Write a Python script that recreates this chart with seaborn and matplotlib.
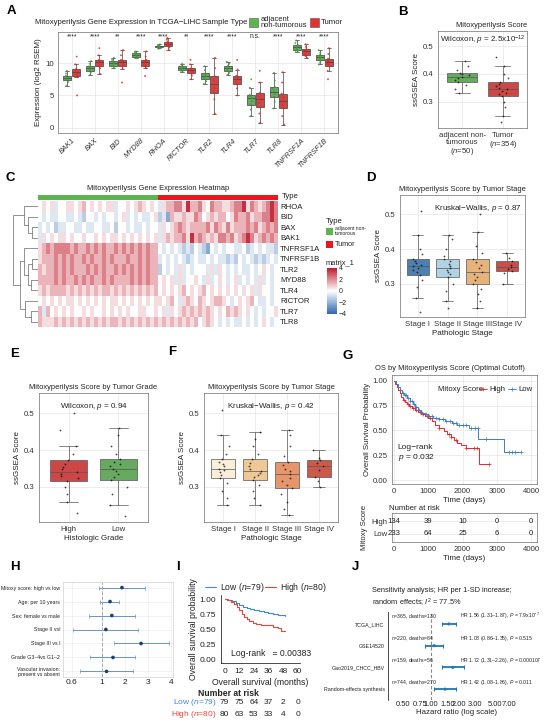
import numpy as np
import pandas as pd
import seaborn as sns
import matplotlib
matplotlib.use("Agg")
import matplotlib.pyplot as plt
from matplotlib.colors import LinearSegmentedColormap, ListedColormap
from matplotlib.patches import Rectangle
from matplotlib.lines import Line2D

# ---------------- panel A: gene expression ----------------
genes = ["BAK1", "BAX", "BID", "MYD88", "RHOA", "RICTOR", "TLR2", "TLR4",
         "TLR7", "TLR8", "TNFRSF1A", "TNFRSF1B"]
gene_stars = ["****", "****", "**", "****", "****", "**", "****", "****",
              "n.s.", "****", "****", "****"]
expr_normal = [
    [6.5, 7.1, 7.33, 7.5, 7.7, 7.85, 8.05, 8.4, 8.8],
    [8.2, 8.6, 8.8, 9.0, 9.2, 9.35, 9.5, 9.9, 10.3],
    [9.2, 9.45, 9.6, 9.8, 10.0, 10.15, 10.3, 10.5, 10.8],
    [10.8, 10.9, 11.0, 11.15, 11.3, 11.4, 11.5, 11.65, 11.8],
    [12.2, 12.4, 12.5, 12.55, 12.6, 12.65, 12.7, 12.8, 12.9],
    [8.6, 8.8, 8.9, 9.05, 9.2, 9.35, 9.5, 9.7, 9.9],
    [6.8, 7.2, 7.5, 7.75, 8.0, 8.2, 8.4, 8.9, 9.5],
    [8.2, 8.5, 8.8, 9.0, 9.2, 9.4, 9.6, 9.9, 10.2],
    [1.8, 2.8, 3.6, 4.1, 4.6, 4.9, 5.1, 6.2, 7.5],
    [3.0, 4.0, 4.8, 5.2, 5.6, 6.0, 6.3, 7.3, 8.5],
    [11.7, 11.9, 12.05, 12.3, 12.5, 12.65, 12.8, 13.1, 13.5],
    [9.8, 10.1, 10.4, 10.65, 10.9, 11.1, 11.3, 11.6, 12.0],
]
expr_tumor = [
    [5.0, 7.8, 8.05, 8.35, 8.6, 8.85, 9.08, 9.8, 11.0],
    [8.3, 9.2, 9.5, 9.8, 10.1, 10.3, 10.5, 11.2, 12.3],
    [7.0, 9.1, 9.5, 9.9, 10.2, 10.35, 10.5, 11.2, 12.0],
    [8.0, 9.2, 9.6, 9.9, 10.2, 10.35, 10.5, 11.0, 11.8],
    [12.0, 12.4, 12.6, 12.8, 13.0, 13.15, 13.3, 13.6, 13.9],
    [7.5, 8.1, 8.4, 8.65, 8.9, 9.05, 9.2, 9.8, 10.5],
    [2.2, 4.4, 5.4, 6.1, 6.7, 7.3, 7.95, 9.2, 10.8],
    [5.0, 6.1, 6.7, 7.1, 7.5, 7.8, 8.05, 9.0, 10.5],
    [0.8, 2.2, 3.2, 3.8, 4.4, 4.9, 5.4, 7.0, 8.8],
    [0.5, 1.8, 3.0, 3.5, 4.1, 4.7, 5.3, 7.0, 8.6],
    [10.8, 11.1, 11.3, 11.55, 11.8, 12.0, 12.15, 12.5, 12.9],
    [7.5, 8.8, 9.5, 9.85, 10.2, 10.45, 10.7, 11.4, 12.3],
]

# ---------------- panel B: overall score ----------------
score_normal = [0.33, 0.345, 0.36, 0.372, 0.378, 0.384, 0.39, 0.395, 0.40,
                0.405, 0.415, 0.43, 0.445]
score_tumor = [0.225, 0.25, 0.28, 0.30, 0.32, 0.327, 0.333, 0.34, 0.345, 0.35,
               0.357, 0.363, 0.37, 0.385, 0.40, 0.43, 0.46]

# ---------------- panel C: heatmap (digit = index into heat_levels) ----------------
heat_levels = [-3.6, -2.2, -1.3, -0.6, 0.0, 0.6, 1.3, 2.2, 3.6]
heat_genes = ["RHOA", "BID", "BAX", "BAK1", "TNFRSF1A", "TNFRSF1B", "TLR2",
              "MYD88", "TLR4", "RICTOR", "TLR7", "TLR8"]
heat_normal = [
    "454534455456454545534454565454",
    "434334433432443434434534343345",
    "343423344334334433424434334344",
    "354545545445445454554545454545",
    "567677776766767676676767676766",
    "566676767667676676766676676766",
    "656676767666767676676767676766",
    "666676766767676676766667676766",
    "565666656565656566565656565656",
    "454545455454545454554545454545",
    "636454545445454454545454455445",
    "655565656565656565665656565656",
]
heat_tumor = [
    "356677586675476655677857656787",
    "231655655764565664576675667787",
    "354567656666757657566676756767",
    "356566758676565776756787567676",
    "434343232432143434433423434332",
    "343434323433434332324343232343",
    "243435343444353543434334345434",
    "454535344543534543453434353434",
    "454545645456454545454545354434",
    "545643565465456654345456433434",
    "453545656565654546565454343445",
    "565656565645654343433434345434",
]
heat_tree = ((0, (1, (2, 3, 2.0), 3.5), 5.0),
             ((4, ((5, 6, 2.0), (7, 8, 2.5), 3.5), 5.0),
              (9, (10, 11, 2.5), 4.5), 6.5), 9.0)

# ---------------- panels D/E/F ----------------
stage_labels = ["Stage I", "Stage II", "Stage III", "Stage IV"]
stage_scores_d = [
    [0.22, 0.26, 0.29, 0.31, 0.325, 0.333, 0.34, 0.345, 0.35, 0.355, 0.36,
     0.366, 0.372, 0.385, 0.40, 0.44, 0.51],
    [0.23, 0.25, 0.28, 0.30, 0.32, 0.327, 0.335, 0.34, 0.345, 0.35, 0.357,
     0.365, 0.372, 0.38, 0.40, 0.43, 0.44],
    [0.23, 0.25, 0.27, 0.285, 0.30, 0.31, 0.32, 0.328, 0.335, 0.345, 0.355,
     0.362, 0.37, 0.39, 0.41, 0.45, 0.50],
    [0.30, 0.33, 0.338, 0.343, 0.348, 0.355, 0.365, 0.375, 0.39],
]
grade_labels = ["High", "Low"]
grade_scores = [
    [0.23, 0.26, 0.28, 0.30, 0.317, 0.325, 0.33, 0.335, 0.34, 0.348, 0.355,
     0.363, 0.372, 0.39, 0.41, 0.455, 0.50],
    [0.22, 0.25, 0.28, 0.30, 0.318, 0.327, 0.336, 0.343, 0.35, 0.356, 0.362,
     0.368, 0.375, 0.39, 0.41, 0.44, 0.46],
]
stage_scores_f = [
    [0.25, 0.27, 0.29, 0.31, 0.325, 0.332, 0.34, 0.345, 0.35, 0.356, 0.362,
     0.368, 0.375, 0.39, 0.41, 0.44, 0.51],
    [0.25, 0.27, 0.29, 0.305, 0.318, 0.326, 0.333, 0.338, 0.343, 0.35, 0.358,
     0.366, 0.375, 0.39, 0.41, 0.43, 0.45],
    [0.225, 0.24, 0.26, 0.28, 0.296, 0.305, 0.315, 0.325, 0.335, 0.343, 0.35,
     0.36, 0.369, 0.385, 0.41, 0.44, 0.455],
    [0.30, 0.315, 0.327, 0.345, 0.356, 0.365, 0.374, 0.38, 0.40],
]

# ---------------- panel G: KM (days) ----------------
km_high_t = [0, 40, 80, 120, 160, 200, 260, 320, 380, 450, 520, 600, 700, 800,
             900, 1000, 1100, 1200, 1300, 1450, 1550, 1650, 1750, 1850, 1950,
             2100, 2480, 2780]
km_high_s = [1.0, 0.97, 0.94, 0.91, 0.88, 0.84, 0.81, 0.79, 0.77, 0.75, 0.73,
             0.71, 0.69, 0.67, 0.65, 0.63, 0.60, 0.56, 0.53, 0.49, 0.46, 0.43,
             0.40, 0.37, 0.35, 0.32, 0.16, 0.16]
km_high_cens = [300, 420, 480, 540, 650, 760, 860, 960, 1050, 1320, 1600,
                1660, 1820, 2100, 2330, 2420, 2780]
km_low_t = [0, 60, 120, 180, 240, 300, 380, 460, 540, 620, 700, 800, 900,
            1000, 1150, 1300, 1500, 1700, 1850, 2200, 2460, 3200, 3700]
km_low_s = [1.0, 0.97, 0.94, 0.91, 0.88, 0.86, 0.83, 0.80, 0.77, 0.74, 0.71,
            0.68, 0.67, 0.65, 0.63, 0.62, 0.60, 0.58, 0.56, 0.53, 0.41, 0.28,
            0.28]
km_low_cens = [250, 320, 360, 420, 480, 520, 580, 640, 720, 820, 920, 1020,
               1120, 1220, 1320, 1420, 1520, 1620, 1720, 1800, 1900, 2000,
               2100, 2250, 2350, 2440, 2700, 3350, 3450, 3520, 3700]
risk_times = [0, 1000, 2000, 3000, 4000]
risk_high = [134, 39, 10, 0, 0]
risk_low = [233, 64, 25, 6, 0]

# ---------------- panel H: multivariable Cox ----------------
cox_terms = ["Mitoxy score: high vs low", "Age: per 10 years",
             "Sex: female vs male", "Stage II vsI", "Stage III vs I",
             "Grade G3\u20134vs G1\u20132", "Vascular invasion:\npresent vs absent"]
cox_hr = [1.87, 1.35, 1.43, 1.17, 2.70, 1.48, 1.20]
cox_lo = [0.96, 0.97, 0.83, 0.61, 1.52, 0.84, 0.71]
cox_hi = [2.87, 1.74, 2.43, 2.57, 3.90, 2.45, 2.35]

# ---------------- panel I: validation KM (months) ----------------
km2_low_t = [0, 3, 6, 9, 12, 15, 18, 21, 24, 28, 32, 36, 40, 44, 50]
km2_low_s = [1.0, 0.99, 0.97, 0.94, 0.91, 0.88, 0.86, 0.84, 0.83, 0.81, 0.79,
             0.77, 0.76, 0.74, 0.73]
km2_high_t = [0, 2, 5, 8, 10, 12, 14, 16, 18, 20, 23, 26, 30, 36, 40, 44, 46, 50]
km2_high_s = [1.0, 0.99, 0.96, 0.92, 0.87, 0.82, 0.76, 0.71, 0.67, 0.64, 0.61,
              0.59, 0.58, 0.57, 0.55, 0.52, 0.48, 0.48]
risk2_times = [0, 12, 24, 36, 48, 60]
risk2_low = [79, 75, 64, 37, 2, 0]
risk2_high = [80, 63, 53, 33, 4, 0]

# ---------------- panel J: meta-analysis ----------------
meta_names = ["TCGA_LIHC", "GSE14520", "Gao2019_CHCC_HBV", "Random-effects synthesis"]
meta_hr = [1.56, 1.08, 1.72, 1.42]
meta_lo = [1.31, 0.86, 1.31, 1.08]
meta_hi = [1.87, 1.35, 2.26, 1.86]
meta_n = [365, 220, 159, 744]
meta_deaths = [130, 84, 56, 270]
meta_p = [r"7.9x10$^{-7}$", "0.515", "0.000107", "0.011"]

# ---------------- style ----------------
sns.set_theme(style="white")
plt.rcParams["font.family"] = ["Liberation Sans", "DejaVu Sans"]
plt.rcParams["mathtext.fontset"] = "custom"
plt.rcParams["mathtext.rm"] = "Liberation Sans"
plt.rcParams["mathtext.it"] = "Liberation Sans:italic"
plt.rcParams["axes.unicode_minus"] = True

GREEN = "#5DB552"
RED = "#E3312F"
TXT = "#222222"
FW, FH = 550, 724

fig = plt.figure(figsize=(FW / 100, FH / 100), dpi=100)


def add_ax(l, t, r, b):
    return fig.add_axes([l / FW, 1 - b / FH, (r - l) / FW, (b - t) / FH])


def fig_text(x, y, s, **kw):
    kw.setdefault("color", TXT)
    fig.text(x / FW, 1 - y / FH, s, **kw)


def fig_rect(l, t, r, b, **kw):
    fig.add_artist(Rectangle((l / FW, 1 - b / FH), (r - l) / FW, (b - t) / FH,
                             transform=fig.transFigure, **kw))


def gg_style(ax, grid=True):
    ax.set_facecolor("white")
    for s in ax.spines.values():
        s.set_visible(True)
        s.set_color("#6E6E6E")
        s.set_linewidth(0.5)
    ax.grid(grid, color="#E6E6E6", lw=0.5)
    ax.set_axisbelow(True)
    ax.tick_params(labelsize=5.6, length=1.8, width=0.4, pad=1.2, colors="#333333")


def score_box(ax, labels, values, colors, title, stat, xlabel, title_loc="center",
              stat_x=0.5):
    df = pd.DataFrame([(lab, v) for lab, vs in zip(labels, values) for v in vs],
                      columns=["grp", "score"])
    sns.boxplot(data=df, x="grp", y="score", hue="grp", palette=colors,
                width=0.75, linewidth=0.5, linecolor="#555555",
                showfliers=False, legend=False, ax=ax)
    sns.stripplot(data=df, x="grp", y="score", color="black", size=1.3,
                  jitter=0.18, alpha=0.7, ax=ax)
    gg_style(ax)
    ax.set_xlim(-0.6, len(labels) - 0.4)
    ax.set_ylim(0.205, 0.555)
    ax.set_yticks([0.3, 0.4, 0.5])
    ax.set_title(title, fontsize=5.4, pad=3, color=TXT, loc=title_loc)
    ax.text(stat_x, 0.88, stat, transform=ax.transAxes, ha="center", fontsize=5.8,
            color=TXT)
    ax.set_xlabel(xlabel, fontsize=5.8, labelpad=1, color=TXT)
    ax.set_ylabel("ssGSEA Score", fontsize=5.8, labelpad=2, color=TXT)


# ================= A =================
ax = add_ax(58, 32, 338, 133)
rows = []
for g, nv, tv in zip(genes, expr_normal, expr_tumor):
    rows += [(g, "adjacent non-tumorous", v) for v in nv]
    rows += [(g, "Tumor", v) for v in tv]
df_a = pd.DataFrame(rows, columns=["gene", "type", "expr"])
hue_order = ["adjacent non-tumorous", "Tumor"]
sns.boxplot(data=df_a, x="gene", y="expr", hue="type", hue_order=hue_order,
            palette=[GREEN, RED], width=0.8, gap=0.1, linewidth=0.5,
            linecolor="#404040", showfliers=False, legend=False, ax=ax)
sns.stripplot(data=df_a, x="gene", y="expr", hue="type", hue_order=hue_order,
              palette=["#3E9A3A", "#F0201C"], dodge=True, jitter=0.12, size=1.4,
              alpha=0.8, legend=False, ax=ax)
gg_style(ax)
ax.set_xlim(-0.6, len(genes) - 0.4)
ax.set_ylim(-0.8, 14.8)
ax.set_yticks([0, 5, 10])
for i, s in enumerate(gene_stars):
    ax.text(i, 14.1, s, ha="center", va="center", fontsize=4.8, color=TXT)
ax.set_xlabel("")
ax.set_ylabel("Expression (log2 RSEM)", fontsize=5.8, labelpad=2, color=TXT)
ax.set_xticks(range(len(genes)))
ax.set_xticklabels(genes, rotation=45, ha="right", rotation_mode="anchor",
                   fontstyle="italic", fontsize=5.4)
fig_text(35, 23, "Mitoxyperilysis Gene Expression in TCGA\u2212LIHC", fontsize=5.6,
         va="center")
fig_text(202, 23, "Sample Type", fontsize=5.6, va="center")
fig_rect(249, 18, 258, 27, fc=GREEN, ec="#555555", lw=0.4)
fig_text(261, 22.5, "adjacent\nnon-tumorous", fontsize=5.4, va="center",
         linespacing=0.9)
fig_rect(310, 18, 319, 27, fc=RED, ec="#555555", lw=0.4)
fig_text(321, 23, "Tumor", fontsize=5.6, va="center")

# ================= B =================
ax = add_ax(438, 31, 527, 128)
score_box(ax, ["adjacent non-\ntumorous\n($\\mathit{n}$=50)", "Tumor\n($\\mathit{n}$=354)"],
          [score_normal, score_tumor], [GREEN, RED], "Mitoxyperilysis Score",
          r"Wilcoxon, $\mathit{p}$ = 2.5x10$^{-12}$", "", title_loc="right")
ax.tick_params(axis="x", labelsize=5.6)
for t in ax.get_xticklabels():
    t.set_linespacing(1.0)

# ================= C =================
heat = np.array([[heat_levels[int(c)] for c in n + t]
                 for n, t in zip(heat_normal, heat_tumor)])
col_type = [0] * len(heat_normal[0]) + [1] * len(heat_tumor[0])
hm_cmap = LinearSegmentedColormap.from_list("bwr2", ["#2A66B0", "#FFFFFF", "#BF1A2C"])
ax_bar = add_ax(38, 195, 278, 200)
sns.heatmap(np.array([col_type]), cmap=ListedColormap([GREEN, "#E8191C"]),
            cbar=False, xticklabels=False, yticklabels=False, ax=ax_bar)
fig_text(282, 196, "Type", fontsize=5.6, va="center")
fig_text(158, 188, "Mitoxyperilysis Gene Expression Heatmap", fontsize=5.4,
         ha="center", va="center")
ax_hm = add_ax(38, 201, 278, 327)
cax = add_ax(327, 268, 337, 314)
sns.heatmap(pd.DataFrame(heat, index=heat_genes), cmap=hm_cmap, vmin=-4, vmax=4,
            xticklabels=False, yticklabels=True, cbar_ax=cax,
            cbar_kws={"ticks": [-4, -2, 0, 2, 4]}, ax=ax_hm)
ax_hm.yaxis.tick_right()
ax_hm.tick_params(axis="y", length=0, labelsize=5.6, pad=1.5, colors=TXT)
plt.setp(ax_hm.get_yticklabels(), rotation=0)
ax_hm.collections[0].colorbar.outline.set_visible(False)
cax.tick_params(labelsize=5, length=0, pad=1, colors=TXT)
cax.set_yticklabels(["\u22124", "\u22122", "0", "2", "4"])
fig_text(326, 263, "matrix_1", fontsize=5.4, va="center")
fig_text(326, 221, "Type", fontsize=5.6, va="center")
fig_rect(326, 228, 333, 235, fc=GREEN, ec="none")
fig_text(335, 231, "adjacent non-\ntumorous", fontsize=3.6, va="center",
         linespacing=0.9)
fig_rect(326, 241, 333, 248, fc="#E8191C", ec="none")
fig_text(335, 245, "Tumor", fontsize=5.2, va="center")

ax_dn = add_ax(12, 201, 38, 327)


def draw_tree(node):
    if isinstance(node, int):
        return node + 0.5, 0.0
    left, right, h = node
    yl, hl = draw_tree(left)
    yr, hr = draw_tree(right)
    ax_dn.plot([hl, h, h, hr], [yl, yl, yr, yr], color="#666666", lw=0.5)
    return (yl + yr) / 2, h


draw_tree(heat_tree)
ax_dn.set_xlim(9.3, 0)
ax_dn.set_ylim(len(heat_genes), 0)
ax_dn.axis("off")

# ================= D =================
ax = add_ax(400, 195, 525, 317)
score_box(ax, stage_labels, stage_scores_d, ["#3C80C0", "#A8D5EE", "#F7B36B", "#E03A35"],
          "Mitoxyperilysis Score by Tumor Stage",
          r"Kruskal$-$Wallis, $\mathit{p}$ = 0.87", "Pathologic Stage", stat_x=0.62)

# ================= E =================
ax = add_ax(39, 393, 148, 522)
score_box(ax, grade_labels, grade_scores, [RED, GREEN],
          "Mitoxyperilysis Score by Tumor Grade",
          r"Wilcoxon, $\mathit{p}$ = 0.94", "Histologic Grade")

# ================= F =================
ax = add_ax(204, 393, 338, 522)
score_box(ax, stage_labels, stage_scores_f, ["#FDF0D5", "#FDCB86", "#FB9055", "#E04A36"],
          "Mitoxyperilysis Score by Tumor Stage",
          r"Kruskal$-$Wallis, $\mathit{p}$ = 0.42", "Pathologic Stage")

# ================= G =================
KM_RED, KM_BLUE = "#E8262A", "#3A7FC1"
ax = add_ax(392, 375, 537, 484)
for t, s, c, col in [(km_high_t, km_high_s, km_high_cens, KM_RED),
                     (km_low_t, km_low_s, km_low_cens, KM_BLUE)]:
    sns.lineplot(x=t, y=s, drawstyle="steps-post", color=col, lw=0.7,
                 estimator=None, sort=False, ax=ax)
    idx = np.searchsorted(t, c, side="right") - 1
    ax.scatter(c, np.array(s)[idx], marker="+", s=7, linewidths=0.5, color=col,
               zorder=3)
gg_style(ax)
ax.set_xlim(-60, 4175)
ax.set_ylim(-0.04, 1.06)
ax.set_xticks(risk_times)
ax.set_yticks([0, 0.25, 0.5, 0.75, 1.0])
ax.set_yticklabels(["0.00", "0.25", "0.50", "0.75", "1.00"])
ax.set_xlabel("Time (days)", fontsize=5.8, labelpad=1, color=TXT)
ax.set_ylabel("Overall Survival Probability", fontsize=5.6, labelpad=1.5, color=TXT)
ax.text(110, 0.27, "Log\u2212rank\n$\\mathit{p}$ = 0.032", fontsize=6, va="center",
        color=TXT, linespacing=1.2)
fig_text(450, 368, "OS by Mitoxyperilysis Score (Optimal Cutoff)", fontsize=5.4,
         ha="center", va="center")
fig_text(438, 389, "Mitoxy Score", fontsize=5.6, va="center")
for x0, lab, col in [(479, "High", KM_RED), (508, "Low", KM_BLUE)]:
    fig.add_artist(Line2D([x0 / FW, (x0 + 8) / FW], [1 - 389 / FH] * 2, color=col,
                          lw=0.6, transform=fig.transFigure))
    fig.add_artist(Line2D([(x0 + 4) / FW], [1 - 389 / FH], marker="+", ms=3,
                          mew=0.5, color=col, transform=fig.transFigure))
    fig_text(x0 + 10, 389, lab, fontsize=5.6, va="center")

rax = add_ax(392, 513, 537, 542)
gg_style(rax, grid=False)
rax.set_xlim(-60, 4175)
rax.set_ylim(1.7, -0.7)
for x, h, l in zip(risk_times, risk_high, risk_low):
    rax.text(x, 0, str(h), ha="center", va="center", fontsize=5.6, color=TXT)
    rax.text(x, 1, str(l), ha="center", va="center", fontsize=5.6, color=TXT)
rax.set_xticks(risk_times)
rax.set_yticks([0, 1])
rax.set_yticklabels(["High", "Low"])
rax.set_xlabel("Time (days)", fontsize=5.8, labelpad=1, color=TXT)
fig_text(389, 509, "Number at risk", fontsize=5.6, va="center")
fig_text(364, 527, "Mitoxy Score", fontsize=5.6, va="center", ha="center",
         rotation=90)

# ================= H =================
ax = add_ax(63, 582, 173, 677)


def fwd(x):
    x = np.asarray(x, float)
    return np.where(x >= 1, x, 1 - (1 - x) * 3.26)


def inv(y):
    y = np.asarray(y, float)
    return np.where(y >= 1, y, 1 - (1 - y) / 3.26)


ax.set_xscale("function", functions=(fwd, inv))
ypos = np.arange(len(cox_terms))
ax.errorbar(cox_hr, ypos, xerr=[np.subtract(cox_hr, cox_lo), np.subtract(cox_hi, cox_hr)],
            fmt="none", ecolor="#6A94C4", elinewidth=0.7, capsize=1.2, capthick=0.5)
sns.scatterplot(x=cox_hr, y=ypos, color="#1E3F6E", s=7, edgecolor="none", ax=ax,
                zorder=3)
ax.axvline(1, color="#AAAAAA", ls="--", lw=0.7)
ax.set_facecolor("white")
for s in ax.spines.values():
    s.set_color("#D0D0D0")
    s.set_linewidth(0.5)
ax.grid(True, color="#EEEEEE", lw=0.5)
ax.set_axisbelow(True)
ax.set_xlim(0.48, 4.09)
ax.set_ylim(len(cox_terms) - 0.6, -0.4)
ax.set_xticks([0.6, 1, 2, 3, 4])
ax.set_xticklabels(["0.6", "1", "2", "3", "4"])
ax.minorticks_off()
ax.set_yticks(ypos)
ax.set_yticklabels(cox_terms, fontsize=3.8, linespacing=1.0)
ax.tick_params(axis="x", labelsize=6, length=0, pad=1.5, colors=TXT)
ax.tick_params(axis="y", length=0, pad=2, colors=TXT)

# ================= I =================
I_BLUE, I_RED = "#3D8BD0", "#E8483C"
ax = add_ax(221, 595, 300, 663)
sns.lineplot(x=km2_low_t, y=km2_low_s, drawstyle="steps-post", color=I_BLUE, lw=0.8,
             estimator=None, sort=False, ax=ax)
sns.lineplot(x=km2_high_t, y=km2_high_s, drawstyle="steps-post", color=I_RED, lw=0.8,
             estimator=None, sort=False, ax=ax)
ax.set_facecolor("white")
for k in ["top", "right"]:
    ax.spines[k].set_visible(False)
for k in ["left", "bottom"]:
    ax.spines[k].set_color("black")
    ax.spines[k].set_linewidth(0.5)
ax.set_xlim(-3, 62)
ax.set_ylim(-0.05, 1.07)
ax.set_xticks(risk2_times)
ax.set_yticks([0, 0.25, 0.5, 0.75, 1.0])
ax.set_yticklabels(["0.00", "0.25", "0.50", "0.75", "1.00"])
ax.tick_params(labelsize=6, length=2, width=0.5, pad=1.5, colors=TXT)
ax.set_xlabel("Overall survival (months)", fontsize=6.2, labelpad=2, color=TXT)
ax.set_ylabel("Overall survival probability", fontsize=6.2, labelpad=1, color=TXT)
ax.text(5, 0.1, "Log-rank   = 0.00383", fontsize=6.2, va="center", color=TXT)
for x0, lab, col in [(205, "Low ($\\mathit{n}$=79)", I_BLUE), (265, "High ($\\mathit{n}$=80)", I_RED)]:
    fig.add_artist(Line2D([x0 / FW, (x0 + 11) / FW], [1 - 587 / FH] * 2, color=col,
                          lw=0.8, transform=fig.transFigure))
    fig_text(x0 + 15, 587, lab, fontsize=6.2, va="center")
rax = add_ax(221, 697, 300, 721)
rax.set_xlim(-3, 62)
rax.set_ylim(1.5, -0.5)
rax.axis("off")
for x, l, h in zip(risk2_times, risk2_low, risk2_high):
    rax.text(x, 0, str(l), ha="center", va="center", fontsize=6, color=TXT)
    rax.text(x, 1, str(h), ha="center", va="center", fontsize=6, color=TXT)
rax.text(-6.5, 0, "Low ($\\mathit{n}$=79)", ha="right", va="center", fontsize=6, color=I_BLUE)
rax.text(-6.5, 1, "High ($\\mathit{n}$=80)", ha="right", va="center", fontsize=6, color=I_RED)
fig_text(228, 694, "Number at risk", fontsize=6.2, fontweight="bold", ha="center",
         va="center")

# ================= J =================
ax = add_ax(388, 612, 525, 700)
ax.set_xscale("log")
jy = np.arange(len(meta_names))
ax.errorbar(meta_hr, jy, xerr=[np.subtract(meta_hr, meta_lo), np.subtract(meta_hi, meta_hr)],
            fmt="none", ecolor="#1F77B4", elinewidth=1.3, capsize=1.5, capthick=0.8)
sns.scatterplot(x=meta_hr, y=jy, color="#1F77B4", s=5, edgecolor="none", ax=ax,
                zorder=3)
ax.axvline(1, color="#888888", ls=(0, (3, 2)), lw=0.8)
ax.set_facecolor("white")
for k in ["top", "right", "bottom"]:
    ax.spines[k].set_visible(False)
ax.spines["left"].set_color("black")
ax.spines["left"].set_linewidth(0.5)
ax.set_xlim(0.34, 10.5)
ax.set_ylim(len(meta_names) - 0.5, -0.55)
ax.set_xticks([0.5, 0.75, 1, 1.5, 2, 3, 5, 7])
ax.set_xticklabels(["0.50", "0.75", "1.00", "1.50", "2.00", "3.00", "5.00", "7.00"])
ax.minorticks_off()
ax.set_yticks(jy)
ax.set_yticklabels(meta_names, fontsize=3.8)
ax.tick_params(axis="x", labelsize=5.4, length=0, pad=1, colors=TXT)
ax.tick_params(axis="y", length=1.5, width=0.4, pad=1, colors=TXT)
ax.set_xlabel("Hazard ratio (log scale)", fontsize=5.6, labelpad=0.5, color=TXT)
for i in range(len(meta_names)):
    ax.text(0.37, i - 0.12, f"$\\mathit{{n}}$={meta_n[i]}, deaths={meta_deaths[i]}",
            fontsize=3.7, va="bottom", color=TXT)
    ax.text(2.05, i - 0.12,
            f"HR {meta_hr[i]:.2f} ({meta_lo[i]:.2f}\u2013{meta_hi[i]:.2f}), $\\mathit{{P}}$ = {meta_p[i]}",
            fontsize=3.7, va="bottom", color=TXT)
fig_text(372, 591, "Sensitivity analysis; HR per 1-SD increase;", fontsize=5.3,
         va="center")
fig_text(372, 603, "random effects; $\\mathit{I}^2$ = 77.5%", fontsize=5.3, va="center")

# ---------------- panel letters ----------------
for lab, x, y in [("A", 11, 11), ("B", 403, 12), ("C", 10, 178), ("D", 371, 178),
                  ("E", 15, 354), ("F", 172, 352), ("G", 348, 356), ("H", 15, 567),
                  ("I", 178, 567), ("J", 355, 567)]:
    fig_text(x, y, lab, fontsize=9.5, fontweight="bold", ha="center", va="center",
             color="black")

fig.savefig("out.png", dpi=100)
